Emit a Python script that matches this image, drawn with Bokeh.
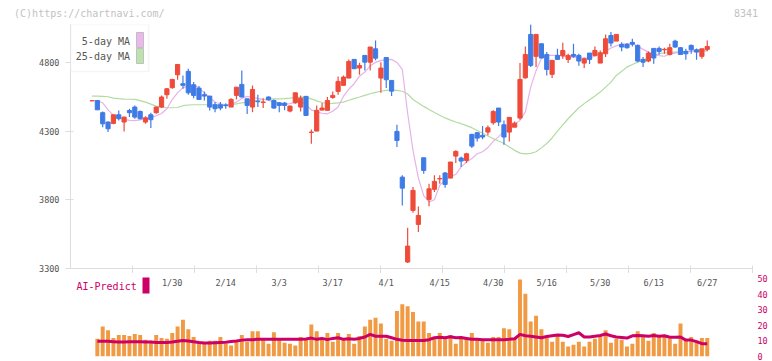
from bokeh.plotting import figure
from bokeh.layouts import column
from bokeh.models import Range1d, FixedTicker, Label, LabelSet, BoxAnnotation, ColumnDataSource, LinearAxis
from bokeh.core.properties import value
from bokeh.embed import file_html
from bokeh.resources import INLINE

# ---------------- data ----------------
days = list(range(116))
opens = [4521,4523,4434,4366,4356,4419,4366,4450,4475,4443, 4366,4419,4434,4475,4565,4616,4710,4645,4735,4637,
         4613,4565,4555,4492,4492,4490,4475,4560,4640,4535, 4475,4518,4508,4548,4523,4506,4504,4446,4506,4475,
         4553,4290,4300,4453,4451,4545,4589,4633,4686,4822, 4759,4851,4802,4899,4686,4836,4669,4298,3965,3347,
         3723,3621,4106,3803,3876,3952,3995,3958,4118,4104, 4087,4276,4288,4269,4293,4361,4468,4346,4293,4329,
         4395,4688,5004,4844,4936,4858,4713,4851,4848,4822, 4858,4851,4795,4868,4851,4795,4863,4996,4955,4931,
         4931,4946,4924,4822,4810,4902,4902,4892,4858,4955, 4907,4880,4924,4892,4844,4895]
highs = [4521,4523,4443,4370,4420,4450,4405,4463,4487,4450, 4409,4434,4478,4560,4613,4681,4785,4705,4754,4657,
         4628,4589,4555,4511,4511,4502,4540,4620,4742,4535, 4632,4565,4540,4553,4530,4511,4511,4487,4579,4560,
         4553,4312,4487,4504,4548,4589,4698,4705,4822,4822, 4798,4851,4912,4960,4802,4836,4669,4346,3978,3597,
         3893,3752,4106,3917,3978,3978,4002,4075,4160,4116, 4143,4281,4293,4337,4341,4451,4468,4378,4400,4370,
         4795,4916,5077,5004,4936,4875,4815,4899,4943,4863, 4936,4863,4834,4868,4916,4887,5004,5021,5004,4946,
         4941,4972,4931,4839,4882,4902,4916,4907,4936,4965, 4912,4899,4931,4902,4899,4960]
lows = [4521,4455,4329,4293,4350,4378,4298,4402,4390,4385, 4353,4322,4426,4468,4535,4608,4674,4608,4565,4540,
        4526,4523,4450,4438,4451,4463,4475,4531,4548,4424, 4438,4475,4468,4523,4463,4438,4451,4438,4499,4443,
        4414,4208,4300,4451,4451,4535,4565,4633,4686,4754, 4710,4742,4742,4815,4579,4613,4555,4184,3759,3340,
        3706,3565,3990,3754,3856,3917,3888,3958,4067,4038, 4067,4177,4225,4240,4269,4346,4337,4201,4225,4329,
        4383,4681,4766,4766,4832,4705,4686,4822,4827,4795, 4834,4776,4759,4788,4844,4795,4839,4916,4955,4882,
        4899,4916,4802,4766,4802,4790,4856,4863,4851,4907, 4858,4819,4863,4819,4827,4882]
closes = [4521,4455,4353,4317,4419,4390,4402,4434,4402,4390, 4397,4383,4475,4548,4608,4676,4785,4633,4579,4560,
          4531,4555,4475,4463,4468,4485,4531,4620,4548,4487, 4603,4514,4512,4528,4468,4487,4487,4482,4579,4540,
          4414,4293,4451,4468,4523,4560,4662,4693,4807,4754, 4778,4802,4912,4831,4759,4674,4591,4232,3885,3463,
          3868,3686,4014,3880,3934,3955,3912,4075,4152,4082, 4135,4191,4249,4257,4324,4443,4366,4257,4400,4358,
          4676,4858,4778,5004,4832,4749,4815,4822,4887,4851, 4844,4810,4827,4822,4887,4870,4972,4941,5004,4912,
          4907,4933,4810,4802,4868,4832,4880,4895,4907,4912, 4858,4863,4892,4875,4899,4916]
ma5 = [4523,4523,4506,4455,4414,4398,4385,4378,4376,4382, 4390,4398,4412,4428,4463,4530,4580,4615,4630,4637,
       4613,4580,4545,4510,4499,4492,4495,4511,4538,4553, 4545,4538,4532,4525,4513,4502,4494,4500,4510,4520,
       4490,4455,4440,4430,4426,4445,4475,4553,4605,4645, 4700,4730,4775,4800,4815,4818,4822,4800,4750,4430,
       4160,3960,3830,3785,3800,3905,3945,3970,3985,4040, 4075,4100,4135,4150,4180,4225,4260,4300,4306,4348,
       4378,4440,4620,4740,4830,4851,4851,4851,4848,4840, 4836,4832,4832,4835,4845,4862,4882,4905,4920,4933,
       4936,4935,4918,4895,4875,4858,4850,4845,4860,4868, 4875,4878,4882,4885,4888,4892]
ma25 = [4555,4555,4553,4550,4540,4536,4533,4532,4531,4522, 4511,4496,4482,4476,4470,4470,4472,4485,4490,4492,
        4492,4492,4492,4492,4492,4492,4493,4498,4505,4511, 4518,4524,4530,4535,4535,4535,4536,4540,4545,4548,
        4546,4535,4520,4508,4500,4502,4506,4511,4525,4537, 4548,4560,4572,4582,4590,4596,4597,4596,4590,4570,
        4530,4505,4480,4458,4435,4415,4396,4380,4366,4354, 4340,4325,4305,4285,4265,4245,4228,4210,4185,4160,
        4140,4135,4138,4150,4178,4210,4250,4300,4345,4390, 4430,4470,4500,4528,4555,4584,4620,4657,4705,4735,
        4766,4785,4802,4815,4832,4848,4863,4870,4872,4875, 4878,4880,4881,4882,4882,4884]
vol_days = days[1:]
volume = [11.3,19.3,16.8,11.9,13.8,13.8,13.1,14.4,13.8,10.7, 10.1,13.8,11.9,11.3,15.0,19.3,23.6,17.5,12.5,9.4,
          8.2,10.1,10.1,12.5,8.2,7.0,10.1,13.8,9.4,16.2, 16.2,11.9,8.2,15.6,10.7,8.8,8.2,7.0,12.5,11.9,
          20.5,16.2,10.7,15.0,9.4,15.0,11.9,14.4,8.2,13.1, 19.3,23.6,24.8,21.1,11.3,10.1,29.2,33.5,32.2,28.5,
          22.4,22.4,15.0,11.3,15.0,11.9,13.8,8.2,11.9,11.3, 15.0,11.3,10.1,8.8,12.5,12.5,18.1,17.5,11.9,49.3,
          40.2,22.4,26.1,17.5,12.5,9.4,13.1,9.4,6.4,7.6, 9.4,6.4,9.4,11.3,12.5,16.8,8.8,11.3,10.7,6.4,
          8.2,16.2,13.1,10.1,15.0,12.5,12.5,11.3,8.2,21.1, 10.1,12.5,10.1,11.9,11.9]
predict = [9.7,9.7,9.7,9.5,9.3,9.3,9.5,9.5,9.5,9.3, 9.3,9.0,9.0,9.0,9.3,9.8,10.3,10.0,9.5,9.0,
           8.6,8.6,8.8,9.0,9.2,9.6,10.0,10.5,10.8,10.8, 11.0,11.0,11.0,11.0,11.0,11.0,11.0,11.0,11.0,11.2,
           11.8,11.0,11.6,10.8,11.6,12.0,11.0,11.4,11.0,11.6, 12.5,14.2,13.0,13.0,13.0,12.0,11.0,10.4,10.2,10.2,
           10.2,10.2,10.8,12.0,12.4,12.0,12.6,12.0,12.2,11.6, 11.0,11.0,10.8,10.8,10.8,10.8,10.8,11.0,11.4,14.2,
           13.3,13.0,12.5,12.0,12.8,13.3,13.8,13.6,12.8,14.0, 15.2,12.5,12.5,13.0,13.5,14.4,13.3,12.5,12.2,11.8,
           13.3,13.4,13.3,13.0,13.4,13.0,13.3,12.3,12.3,12.5, 10.5,10.5,9.5,8.2,8.2]
date_labels = ["1/30", "2/14", "3/3", "3/17", "4/1", "4/15", "4/30", "5/16", "5/30", "6/13", "6/27"]
date_label_days = [15, 25, 35, 45, 55, 65, 75, 85, 95, 105, 115]
price_ticks = [3300, 3800, 4300, 4800]
vol_ticks = [0, 10, 20, 30, 40, 50]
header_texts = {-0.5: "(C)https://chartnavi.com/", 122.25: "8341"}

# ---------------- layout helpers (pixel geometry of the page) ----------------
DAY0_PX, DAY_STEP = 91.5, 5.35
FRAME_L, FRAME_R, PAGE_R = 70, 752, 770
A_TOP, A_BOT, P_LO, P_HI = 24, 268, 3300, 5076
B_TOP, B_BOT, V_PX = 273, 356, 1.56

def px_day(px):
    return (px - DAY0_PX) / DAY_STEP

def py_price(py):
    return P_HI - (py - A_TOP) * (P_HI - P_LO) / (A_BOT - A_TOP)

def py_vol(py):
    return (B_BOT - py) / V_PX

x0, x1 = px_day(FRAME_L), px_day(FRAME_R)
MONO = "DejaVu Sans Mono"
RED, BLUE = "#ef4b3a", "#3e7be6"
xr = Range1d(x0, x1)

# ---------------- price panel ----------------
pA = figure(width=PAGE_R, height=A_BOT + 5, x_range=xr, y_range=Range1d(P_LO, P_HI),
            output_backend="svg", toolbar_location=None,
            min_border_left=FRAME_L, min_border_right=PAGE_R - FRAME_R, min_border_top=A_TOP, min_border_bottom=5)
pA.outline_line_color = None
pA.xgrid.visible = False
pA.ygrid.visible = False
pA.background_fill_color = "white"
pA.border_fill_color = "white"

pA.yaxis.ticker = FixedTicker(ticks=price_ticks)
pA.yaxis.axis_line_color = "#dddddd"
pA.yaxis.major_tick_line_color = "#dddddd"
pA.yaxis.major_tick_in = 3
pA.yaxis.major_tick_out = 5
pA.yaxis.minor_tick_line_color = None
pA.yaxis.major_label_text_font = MONO
pA.yaxis.major_label_text_font_size = "8.5px"
pA.yaxis.major_label_text_color = "#555555"
pA.yaxis.major_label_standoff = 6

pA.xaxis.ticker = FixedTicker(ticks=[], minor_ticks=[x0 + k * (x1 - x0) / 11 for k in range(1, 11)] + [x1 - 1e-6])
pA.xaxis.axis_line_color = "#dddddd"
pA.xaxis.major_tick_line_color = None
pA.xaxis.minor_tick_line_color = "#dddddd"
pA.xaxis.minor_tick_in = 3
pA.xaxis.minor_tick_out = 5
pA.xaxis.major_tick_out = 0
pA.xaxis.major_tick_in = 0
pA.xaxis.major_label_standoff = 0

# header texts (copyright URL and stock code) on a bare axis above the frame
head = LinearAxis(ticker=FixedTicker(ticks=list(header_texts.keys())),
                  major_label_overrides=header_texts,
                  axis_line_color=None, major_tick_line_color=None, minor_tick_line_color=None,
                  major_tick_in=0, major_tick_out=0, major_label_standoff=6,
                  major_label_text_font=MONO, major_label_text_font_size="10px",
                  major_label_text_color="#c2c2c2")
pA.add_layout(head, "above")

colors = [RED if c >= o else BLUE for o, c in zip(opens, closes)]
src = ColumnDataSource(dict(x=days, o=opens, h=highs, l=lows, c=closes,
                            top=[max(o, c) for o, c in zip(opens, closes)],
                            bot=[min(o, c) for o, c in zip(opens, closes)],
                            col=colors, ma5=ma5, ma25=ma25))

pA.line("x", "ma25", source=src, line_color="#b2dba2", line_width=1.2)
pA.line("x", "ma5", source=src, line_color="#e7b2ea", line_width=1.2)
pA.segment(x0="x", y0="l", x1="x", y1="h", source=src, line_color="col", line_width=1.2)
pA.vbar(x="x", width=0.78, top="top", bottom="bot", source=src,
        fill_color="col", line_color="col", line_width=1)

# legend box (label left, swatch right, as in the reference)
pA.add_layout(BoxAnnotation(left=x0, right=px_day(148), top=py_price(24), bottom=py_price(71),
                            fill_color="white", fill_alpha=1, line_color="#dddddd", line_width=1.5,
                            level="overlay"))
pA.add_layout(Label(x=px_day(129.5), y=py_price(40.5), text="5-day MA", text_align="right",
                    text_baseline="middle", text_font=MONO, text_font_size="10px",
                    text_color="#555555", level="overlay"))
pA.add_layout(Label(x=px_day(129.5), y=py_price(55.5), text="25-day MA", text_align="right",
                    text_baseline="middle", text_font=MONO, text_font_size="10px",
                    text_color="#555555", level="overlay"))
pA.add_layout(BoxAnnotation(left=px_day(136), right=px_day(143), top=py_price(32), bottom=py_price(47),
                            fill_color="#e9b9ea", fill_alpha=1, line_color="#666666", line_width=1,
                            level="overlay"))
pA.add_layout(BoxAnnotation(left=px_day(136), right=px_day(143), top=py_price(48), bottom=py_price(63),
                            fill_color="#bfe0b1", fill_alpha=1, line_color="#666666", line_width=1,
                            level="overlay"))

# ---------------- volume / AI-Predict panel ----------------
pB = figure(width=PAGE_R, height=361 - (A_BOT + 5), x_range=xr, y_range=Range1d(0, py_vol(B_TOP)),
            output_backend="svg", toolbar_location=None, y_axis_location="right",
            min_border_left=FRAME_L, min_border_right=PAGE_R - FRAME_R, min_border_top=0, min_border_bottom=361 - B_BOT)
pB.outline_line_color = None
pB.xgrid.visible = False
pB.ygrid.visible = False
pB.xaxis.visible = False
pB.background_fill_color = "white"
pB.border_fill_color = "white"
pB.yaxis.ticker = FixedTicker(ticks=vol_ticks)
pB.yaxis.axis_line_color = None
pB.yaxis.major_tick_line_color = None
pB.yaxis.minor_tick_line_color = None
pB.yaxis.major_tick_in = 0
pB.yaxis.major_tick_out = 0
pB.yaxis.major_label_standoff = 5
pB.yaxis.major_label_text_font = MONO
pB.yaxis.major_label_text_font_size = "8.5px"
pB.yaxis.major_label_text_color = "#cc0066"

pB.vbar(x=vol_days, width=0.74, top=volume, bottom=0, fill_color="#f19a44", line_color=None)
pB.line(vol_days, predict, line_color="#cc0066", line_width=3)

lbl_src = ColumnDataSource(dict(x=date_label_days, y=[py_vol(282)] * len(date_labels), t=date_labels))
pB.add_layout(LabelSet(x="x", y="y", text="t", source=lbl_src, text_align="center",
                       text_baseline="middle", text_font=value(MONO), text_font_size=value("8.5px"),
                       text_color=value("#555555")))
pB.add_layout(Label(x=px_day(76), y=py_vol(285.7), text="AI-Predict", text_align="left",
                    text_baseline="middle", text_font=MONO, text_font_size="10px", text_color="#cc0066"))
pB.add_layout(BoxAnnotation(left=px_day(142), right=px_day(149), top=py_vol(277), bottom=py_vol(293),
                            fill_color="#cc0066", fill_alpha=1, line_color=None))

layout = column(pA, pB)
open("out.html", "w").write(file_html(layout, INLINE))
